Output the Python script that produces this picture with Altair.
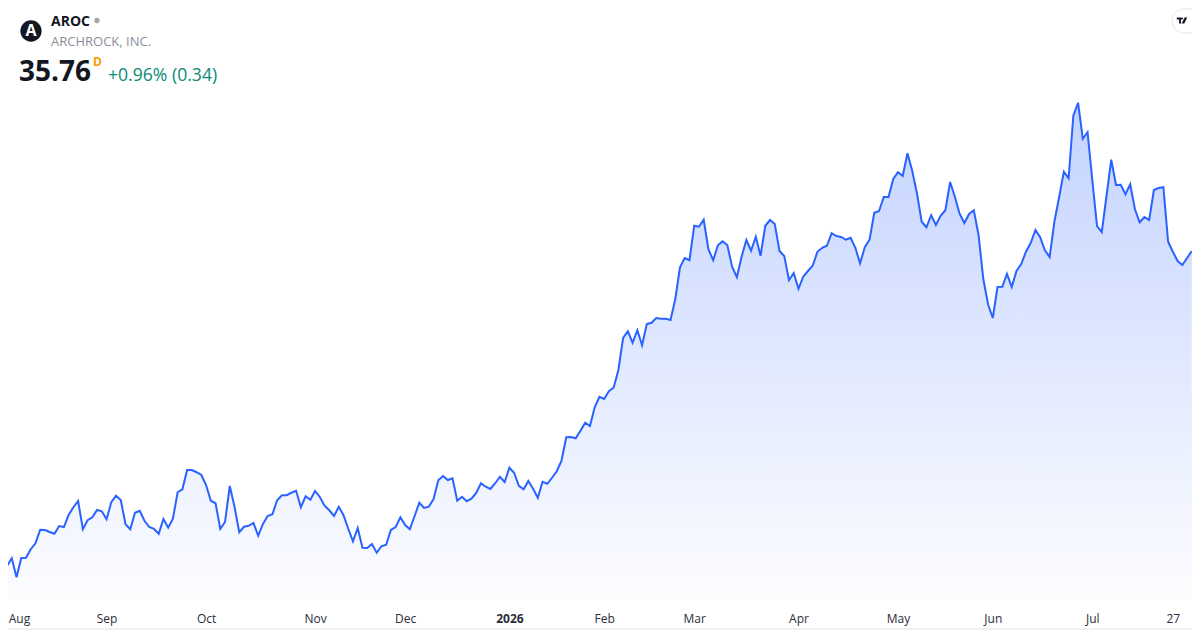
import altair as alt
import pandas as pd

# Closing prices per trading session
closes_aug_oct = [23.97,23.16,23.47,22.71,23.48,23.49,23.83,24.07,24.61,24.60,24.52,24.45,24.76,24.72,25.20,25.51,25.76,24.63,24.99,25.11,25.40,25.35,25.03,25.71,25.97,25.80,24.83,24.63,25.29,25.37,24.97,24.72,24.65,24.45,25.04,24.69,25.05,26.11,26.23,27.00,27.00,26.91,26.80,26.40,25.77,25.67,24.64,24.92,26.36,25.53,24.51,24.73,24.77,24.88,24.37,24.84,25.16,25.23,25.79,25.99,25.99,26.09,26.17]
closes_nov_jan = [25.51,25.95,25.81,26.16,25.92,25.57,25.39,25.16,25.53,25.19,24.65,24.15,24.68,23.89,23.88,24.04,23.69,23.95,24.01,24.60,24.72,25.11,24.80,24.63,25.16,25.69,25.48,25.53,25.84,26.59,26.76,26.60,26.67,25.77,25.93,25.75,25.85,26.08,26.47,26.33,26.24,26.47,26.73,26.52,27.09,26.89,26.37,26.23,26.56,26.25,25.89,26.53,26.45,26.69,26.95,27.37,28.31,28.32,28.27,28.57,28.89,28.76,29.51]
closes_feb_apr = [29.93,29.84,30.15,30.29,31.00,32.28,32.55,32.09,32.59,31.99,32.84,32.89,33.08,33.05,33.05,33.00,33.83,35.11,35.48,35.39,36.77,36.73,37.01,35.83,35.39,35.99,36.15,35.99,35.13,34.71,35.53,36.20,35.77,36.33,35.57,36.77,37.00,36.84,35.76,35.56,34.59,34.88,34.25,34.73,34.96,35.17,35.73,35.89,35.97,36.47,36.36,36.32,36.21,36.29,35.89,35.27]
closes_may_jun = [35.91,36.21,37.29,37.36,37.92,37.92,38.64,38.91,38.76,39.67,38.97,38.07,36.93,36.71,37.19,36.80,37.17,37.39,38.52,37.93,37.25,36.88,37.24,37.39,36.40,34.65,33.63,33.08,34.32,34.33,34.84,34.32,34.96]
closes_jun_jul = [35.24,35.73,36.08,36.60,36.31,35.79,35.52,36.93,37.91,38.93,38.67,41.17,41.69,40.25,40.51,38.60,36.76,36.52,37.96,39.41,38.40,38.41,38.03,38.43,37.43,36.91,37.12,37.00,38.20,38.28,38.31,36.13,35.73,35.36,35.20,35.48,35.76]
closes = closes_aug_oct + closes_nov_jan + closes_feb_apr + closes_may_jun + closes_jun_jul

tick_sessions = [1.25, 22, 43, 66, 85, 107, 127, 146, 168, 189, 209, 230, 247]
tick_labels = ["Aug", "Sep", "Oct", "Nov", "Dec", "2026", "Feb", "Mar", "Apr", "May", "Jun", "Jul", "27"]

ticker = "AROC"
company = "ARCHROCK, INC."
last_price = "35.76"
change_text = "+0.96% (0.34)"
interval_text = "D"

df = pd.DataFrame({"session": list(range(len(closes))), "close": closes})

label_map = ",".join(f"'{v}':'{t}'" for v, t in zip(tick_sessions, tick_labels))
label_expr = "({" + label_map + "})[datum.value]"

x_scale = alt.Scale(domain=[1.203, 251.04], nice=False, zero=False)
y_scale = alt.Scale(domain=[21.80, 45.48], nice=False, zero=False)

x_enc = alt.X("session:Q", scale=x_scale, axis=alt.Axis(
    title=None, values=tick_sessions, labelExpr=label_expr, grid=False, domain=False, ticks=False,
    labelFlush=True, labelOverlap=False, labelFont="Open Sans", labelFontSize=12, labelColor="#2a2e39",
    labelPadding=18, labelBaseline="middle",
    labelFontWeight=alt.expr("datum.value == 107 ? 'bold' : 'normal'"),
))
y_enc = alt.Y("close:Q", scale=y_scale, axis=None)

area = alt.Chart(df).mark_area(
    clip=True,
    color=alt.Gradient(
        gradient="linear", x1=0, x2=0, y1=0, y2=1,
        stops=[alt.GradientStop(color="#c3d3ff", offset=0), alt.GradientStop(color="#fdfdff", offset=1)],
    ),
).encode(x=x_enc, y=y_enc, y2=alt.datum(21.80))

line = alt.Chart(df).mark_line(clip=True, color="#2962ff", strokeWidth=2, strokeJoin="miter").encode(x=x_enc, y=y_enc)


def label(text, x, y, **kw):
    return alt.Chart(pd.DataFrame({"t": [text]})).mark_text(align="left", baseline="middle", font="Open Sans", **kw).encode(
        text="t:N", x=alt.value(x), y=alt.value(y))


blank = pd.DataFrame({"n": [1]})
logo_bg = alt.Chart(blank).mark_circle(color="#131722", size=452, opacity=1).encode(x=alt.value(23), y=alt.value(23))
logo_letter = label("A", 17.5, 23, fontSize=16, fontWeight="bold", color="#ffffff")
status_dot = alt.Chart(blank).mark_circle(color="#a3a6af", size=28, opacity=1).encode(x=alt.value(89), y=alt.value(12.5))

pill = alt.Chart(blank).mark_rect(fill="#ffffff", stroke="#f0f0f2", strokeWidth=1.5, cornerRadius=12).encode(
    x=alt.value(1164), x2=alt.value(1204), y=alt.value(1), y2=alt.value(25))
tv_path = "M-0.8,-0.45 L-0.15,-0.45 L-0.15,0.45 L-0.45,0.45 L-0.45,-0.15 L-0.8,-0.15 Z M0,-0.45 A0.15,0.15 0 1 1 0,-0.15 A0.15,0.15 0 1 1 0,-0.45 Z M0.4,-0.45 L0.8,-0.45 L0.35,0.45 L-0.05,0.45 Z"
tv = alt.Chart(blank).mark_point(shape=tv_path, filled=True, fill="#131722", opacity=1, size=170).encode(
    x=alt.value(1174), y=alt.value(12.5))

edge_bottom = alt.Chart(blank).mark_rule(color="#e0e3eb", strokeWidth=1).encode(x=alt.value(0), x2=alt.value(1184), y=alt.value(621))

chart = alt.layer(
    area, line,
    edge_bottom,
    logo_bg, logo_letter, status_dot,
    label(ticker, 43, 14, fontSize=14, fontWeight="bold", color="#131722"),
    label(company, 43, 34, fontSize=13, color="#8a8e99"),
    label(last_price, 11, 65, fontSize=28, fontWeight="bold", color="#131722"),
    label(interval_text, 85, 54, fontSize=12, fontWeight="bold", color="#ff9800"),
    label(change_text, 100, 68, fontSize=17.6, color="#0a8a74"),
    pill, tv,
).properties(
    width=1184, height=592,
    autosize=alt.AutoSizeParams(type="none"),
    padding={"left": 0, "top": 0, "right": 0, "bottom": 30},
    background="#ffffff",
).configure_view(stroke=None)

chart.save("out.html", embed_options={"renderer": "svg", "actions": False})
